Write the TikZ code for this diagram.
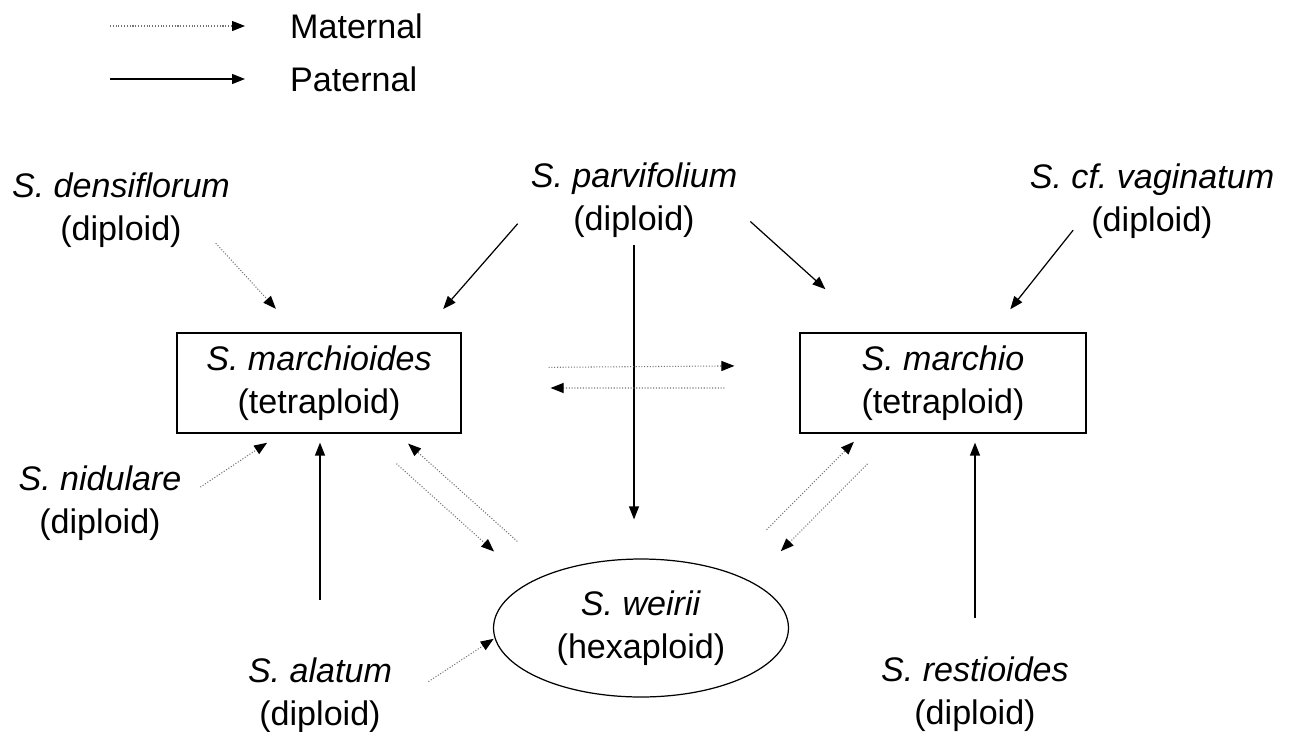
\documentclass[tikz,border=0pt]{standalone}
\usepackage{fontspec}
\setmainfont{Liberation Sans}[Ligatures=CommonOff]
\usetikzlibrary{arrows.meta,shapes.geometric}
\frenchspacing

\begin{document}
\begin{tikzpicture}[x=0.02cm, y=-0.02cm,
    font=\fontsize{19.4}{24.5}\selectfont,
    species/.style={align=center, inner sep=0.07cm},
    boxed/.style={draw, line width=0.7pt, minimum height=2cm, align=center},
    hexa/.style={draw, ellipse, line width=0.7pt, minimum width=5.9cm, minimum height=2.76cm, inner sep=0pt, align=center},
    pat/.style={line width=0.7pt, -{Triangle[length=0.26cm, width=0.2cm]}},
    mat/.style={line width=0.6pt, densely dotted, black!55, -{Triangle[length=0.26cm, width=0.2cm, color=black]}}]
    \useasboundingbox (0,0) rectangle (1295,731);

    \node[anchor=west] (matlbl) at (284,26) {Maternal};
    \node[anchor=west] (patlbl) at (284,79) {Paternal};
    \coordinate (matstart) at (110,26);
    \coordinate (patstart) at (110,79);
    \draw[mat, shorten >=0.78cm] (matstart) -- (matlbl.west);
    \draw[pat, shorten >=0.78cm] (patstart) -- (patlbl.west);

    \foreach \x/\y/\sp/\name in {
        121/210/densiflorum/dens,   634/200/parvifolium/parv,   1152/201/cf. vaginatum/vag,
        100/503/nidulare/nid,       320/695/alatum/alat,        975/694/restioides/rest} {
        \node[species] (\name) at (\x, \y) {\textit{S. \sp}\\(diploid)};
    }
    \node[boxed, minimum width=5.68cm] (mchd) at (319,383) {\textit{S. marchioides}\\(tetraploid)};
    \node[boxed, minimum width=5.72cm] (mch) at (943,383) {\textit{S. marchio}\\(tetraploid)};
    \node[hexa] (weir) at (641,628) {\textit{S. weirii}\\(hexaploid)};

    \draw[mat, shorten <=-0.22cm, shorten >=0.64cm] (dens.-22.6) -- (mchd.113.5);
    \draw[pat, shorten <=0.28cm, shorten >=0.62cm] (parv.187.8) -- (mchd.26.6);
    \draw[pat, shorten <=0.25cm, shorten >=1.29cm] (parv.-7.8) -- (mch.144.5);
    \draw[pat, shorten <=0.08cm, shorten >=0.78cm] (parv.south) -- (parv |- weir.north);
    \draw[pat, shorten <=-0.31cm, shorten >=0.59cm] (vag.205.3) -- (mch.46);
    \draw[mat, shorten <=1.74cm, shorten >=1.3cm] (mchd.6.8) -- (mch.173.2);
    \draw[mat, shorten <=1.5cm, shorten >=1.78cm] (mch.182) -- (mchd.-2);
    \draw[mat, shorten <=0.36cm, shorten >=0.33cm] (nid.4.9) -- (mchd.233.4);
    \draw[pat, shorten <=1.08cm, shorten >=0.18cm] (alat.north) -- (alat |- mchd.south);
    \draw[mat, shorten <=0.9cm, shorten >=0.93cm] (mchd.-49.5) -- (weir.158.2);
    \draw[mat, shorten <=0.93cm, shorten >=0.3cm] (weir.148.5) -- (mchd.-33);
    \draw[mat, shorten <=0.85cm, shorten >=0.85cm] (mch.228) -- (weir.23.3);
    \draw[mat, shorten <=1.16cm, shorten >=0.23cm] (weir.34.1) -- (mch.212);
    \draw[pat, shorten <=0.7cm, shorten >=0.18cm] (rest.north) -- (rest |- mch.south);
    \draw[mat, shorten <=0.78cm, shorten >=0.02cm] (alat.-6.9) -- (weir.184.5);
\end{tikzpicture}
\end{document}
